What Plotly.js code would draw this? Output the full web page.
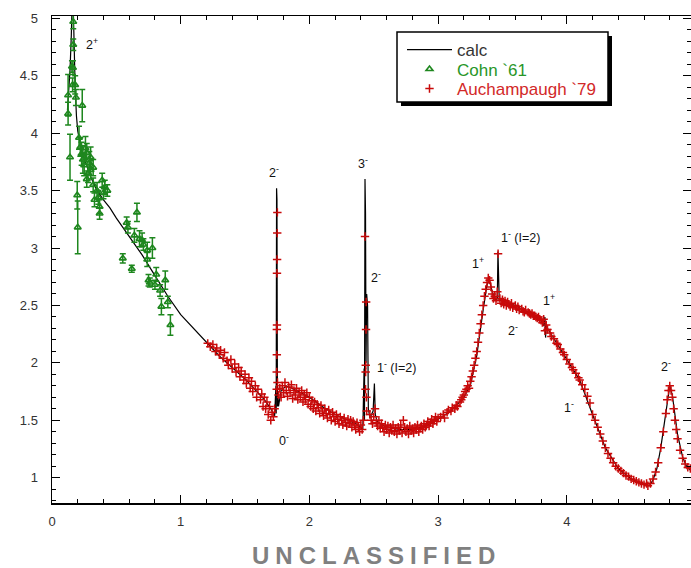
<!DOCTYPE html>
<html>
<head>
<meta charset="utf-8">
<script src="https://cdn.plot.ly/plotly-3.0.1.min.js"></script>
<style>html,body{margin:0;padding:0;background:#fff;}#chart{width:691px;height:568px;}</style>
</head>
<body>
<div id="chart"></div>
<script>
// calc curve
var calcX = [0.12,0.13,0.14,0.15,0.155,0.16,0.165,0.17,0.18,0.19,0.20,0.22,0.25,0.30,0.35,0.40,0.45,0.50,0.60,0.70,0.80,0.90,1.00,1.10,1.20,1.30,1.40,1.50,1.60,1.65,1.70,1.73,1.740,1.742,1.745,1.748,1.750,1.752,1.756,1.76,1.78,1.82,1.90,2.00,2.10,2.20,2.30,2.38,2.415,2.425,2.428,2.432,2.436,2.440,2.445,2.452,2.458,2.47,2.495,2.505,2.512,2.53,2.60,2.70,2.80,2.90,3.00,3.10,3.20,3.25,3.30,3.35,3.38,3.40,3.42,3.45,3.46,3.465,3.47,3.475,3.50,3.60,3.70,3.80,3.82,3.83,3.835,3.84,3.90,4.00,4.10,4.20,4.30,4.40,4.50,4.60,4.64,4.67,4.70,4.73,4.76,4.78,4.80,4.82,4.84,4.86,4.88,4.90,4.93,4.965];
var calcY = [4.20,4.35,4.55,4.85,5.10,5.30,5.10,4.75,4.40,4.15,4.02,3.90,3.78,3.62,3.50,3.42,3.35,3.26,3.10,2.94,2.76,2.58,2.42,2.30,2.18,2.06,1.96,1.86,1.74,1.68,1.60,1.54,1.80,1.56,3.52,3.42,2.30,1.62,1.72,1.62,1.76,1.80,1.76,1.70,1.62,1.55,1.50,1.46,1.42,1.95,1.50,3.60,3.30,2.00,2.60,2.50,1.60,1.52,1.58,1.82,1.55,1.48,1.44,1.42,1.42,1.45,1.51,1.58,1.70,1.80,2.06,2.46,2.68,2.72,2.62,2.54,2.56,2.97,2.62,2.55,2.54,2.50,2.44,2.37,2.32,2.40,2.22,2.32,2.21,2.03,1.85,1.55,1.26,1.08,0.99,0.94,0.93,0.98,1.08,1.26,1.50,1.68,1.80,1.72,1.55,1.38,1.28,1.18,1.10,1.06];

// Cohn `61
var cohnX = [0.165,0.165,0.163,0.16,0.155,0.125,0.125,0.14,0.18,0.186,0.235,0.196,0.20,0.21,0.22,0.23,0.24,0.25,0.26,0.27,0.27,0.28,0.29,0.30,0.30,0.32,0.32,0.33,0.35,0.36,0.37,0.37,0.39,0.40,0.41,0.43,0.55,0.58,0.59,0.62,0.64,0.66,0.68,0.70,0.71,0.74,0.74,0.75,0.76,0.78,0.80,0.81,0.84,0.85,0.88,0.90,0.92];
var cohnY = [4.97,4.77,4.57,4.42,4.58,4.33,4.17,3.79,4.42,4.31,4.24,3.46,3.18,3.96,3.88,3.82,3.77,3.72,3.87,3.83,3.60,3.65,3.74,3.79,3.68,3.70,3.55,3.42,3.50,3.44,3.36,3.30,3.59,3.48,3.53,3.50,2.91,3.22,3.18,2.82,3.11,3.31,3.08,3.07,3.03,2.98,2.90,2.72,2.70,3.00,2.68,2.77,2.63,2.49,2.72,2.53,2.33];
var cohnErr = [0.06,0.05,0.06,0.06,0.05,0.18,0.10,0.20,0.08,0.07,0.14,0.12,0.23,0.10,0.08,0.10,0.12,0.09,0.10,0.08,0.07,0.08,0.10,0.09,0.08,0.07,0.06,0.06,0.07,0.06,0.06,0.05,0.06,0.05,0.06,0.05,0.04,0.05,0.05,0.03,0.06,0.08,0.07,0.06,0.05,0.07,0.06,0.05,0.04,0.09,0.04,0.06,0.05,0.07,0.08,0.05,0.09];

// Auchampaugh `79
var auchX = [1.21,1.23,1.25,1.27,1.28,1.30,1.31,1.33,1.34,1.36,1.37,1.39,1.40,1.42,1.43,1.45,1.46,1.47,1.49,1.50,1.51,1.53,1.54,1.55,1.56,1.58,1.59,1.60,1.62,1.63,1.64,1.65,1.66,1.67,1.68,1.69,1.70,1.71,1.72,1.73,
 1.746,1.746,1.747,1.747,1.748,1.748,1.749,1.750,1.751,1.752,
 1.76,1.77,1.78,1.79,1.80,1.81,1.82,1.83,1.84,1.85,1.86,1.87,1.88,1.89,1.90,1.91,1.92,1.93,1.94,1.95,1.96,1.97,1.98,1.99,2.00,2.01,2.02,2.03,2.04,2.05,2.06,2.07,2.08,2.09,2.10,2.11,2.12,2.13,2.14,2.15,2.16,2.17,2.18,2.19,2.20,2.21,2.22,2.23,2.24,2.25,2.26,2.27,2.28,2.29,2.30,2.31,2.32,2.33,2.34,2.35,2.36,2.37,2.38,2.39,2.40,2.41,2.42,
 2.432,2.436,2.437,2.438,2.440,2.441,2.443,2.445,
 2.47,2.48,2.49,2.50,2.51,2.52,2.53,2.54,2.55,2.56,2.57,2.58,2.59,2.60,2.61,2.62,2.63,2.64,2.65,2.66,2.67,2.68,2.69,2.70,2.71,2.72,2.73,2.74,2.75,2.76,2.77,2.78,2.79,2.80,2.81,2.82,2.83,2.84,2.85,2.86,2.87,2.88,2.89,2.90,2.91,2.92,2.93,2.94,2.95,2.96,2.97,2.98,2.99,3.00,
 3.02,3.04,3.05,3.07,3.08,3.10,3.11,3.13,3.14,3.15,3.17,3.18,3.19,3.20,3.21,3.22,3.23,3.24,3.25,3.26,3.27,3.28,3.29,3.30,3.31,3.32,3.33,3.34,3.35,3.36,3.37,3.38,3.39,3.40,3.41,3.42,3.43,3.44,3.45,3.46,3.466,3.48,3.49,3.50,3.51,3.52,3.53,3.54,3.55,3.56,3.57,3.58,3.60,3.61,3.62,3.63,3.65,3.66,3.67,3.68,3.70,3.71,3.72,3.73,3.74,3.75,3.76,3.77,3.78,3.79,3.80,3.81,3.82,3.83,3.84,3.85,3.87,3.88,3.90,3.92,3.93,3.95,3.97,3.98,4.00,4.02,4.04,4.05,4.07,4.09,4.10,4.12,4.14,4.16,4.18,4.20,4.22,4.24,4.26,4.28,4.30,4.32,4.34,4.36,4.38,4.40,4.42,4.44,4.46,4.48,4.50,4.52,4.54,4.56,4.58,4.60,4.62,4.63,4.65,4.67,4.69,4.71,4.73,4.75,4.77,4.78,4.79,4.80,4.81,4.82,4.83,4.84,4.85,4.86,4.88,4.90,4.92,4.94,4.96];
var auchY = [2.17,2.14,2.16,2.10,2.13,2.07,2.11,2.04,2.09,2.02,1.98,2.03,1.95,1.99,1.92,1.96,1.88,1.93,1.85,1.90,1.82,1.87,1.78,1.84,1.75,1.80,1.70,1.77,1.68,1.73,1.62,1.70,1.60,1.66,1.55,1.62,1.50,1.57,1.53,1.60,
 1.77,1.92,2.07,2.29,2.33,2.78,2.90,3.13,3.31,1.83,
 1.72,1.78,1.70,1.80,1.74,1.83,1.76,1.71,1.79,1.74,1.81,1.69,1.76,1.72,1.78,1.68,1.74,1.70,1.76,1.66,1.72,1.68,1.74,1.64,1.70,1.62,1.67,1.60,1.66,1.58,1.64,1.61,1.56,1.63,1.58,1.54,1.60,1.56,1.52,1.59,1.55,1.50,1.57,1.53,1.49,1.55,1.51,1.47,1.53,1.50,1.46,1.52,1.48,1.45,1.51,1.47,1.50,1.44,1.49,1.46,1.42,1.48,1.44,1.40,1.46,1.42,1.50,
 3.10,1.77,1.92,1.98,2.29,2.53,1.70,1.58,
 1.55,1.50,1.47,1.53,1.60,1.48,1.45,1.50,1.43,1.47,1.44,1.40,1.46,1.42,1.45,1.39,1.44,1.41,1.46,1.40,1.43,1.38,1.44,1.41,1.46,1.39,1.50,1.44,1.40,1.43,1.38,1.45,1.41,1.43,1.39,1.44,1.42,1.46,1.40,1.43,1.45,1.42,1.47,1.44,1.46,1.49,1.45,1.48,1.51,1.47,1.50,1.53,1.49,1.52,
 1.53,1.55,1.52,1.57,1.59,1.58,1.61,1.60,1.63,1.62,1.66,1.68,1.70,1.72,1.75,1.77,1.80,1.78,1.84,1.88,1.93,1.98,2.04,2.10,2.18,2.26,2.34,2.42,2.50,2.58,2.64,2.70,2.74,2.72,2.66,2.60,2.56,2.58,2.54,2.62,2.95,2.56,2.52,2.55,2.51,2.54,2.50,2.53,2.51,2.49,2.52,2.48,2.50,2.47,2.49,2.46,2.47,2.45,2.44,2.46,2.44,2.43,2.42,2.43,2.41,2.41,2.40,2.39,2.40,2.38,2.37,2.35,2.38,2.28,2.33,2.29,2.26,2.23,2.21,2.17,2.16,2.12,2.09,2.07,2.03,1.99,1.96,1.94,1.91,1.87,1.85,1.81,1.77,1.71,1.65,1.55,1.50,1.44,1.38,1.32,1.26,1.21,1.17,1.13,1.10,1.08,1.06,1.04,1.02,1.01,0.99,0.98,0.97,0.96,0.95,0.94,0.95,0.93,0.95,0.99,1.05,1.13,1.26,1.40,1.56,1.68,1.76,1.80,1.76,1.70,1.60,1.50,1.42,1.34,1.24,1.17,1.12,1.09,1.08];

// annotation labels
var labX = [0.31,1.725,1.80,2.42,2.52,2.68,3.31,3.64,3.86,3.58,4.02,4.77];
var labY = [4.78,3.66,1.33,3.74,2.75,1.96,2.87,3.10,2.55,2.29,1.62,1.97];
var labT = ['2<sup>+</sup>','2<sup>-</sup>','0<sup>-</sup>','3<sup>-</sup>','2<sup>-</sup>','1<sup>-</sup> (I=2)','1<sup>+</sup>','1<sup>-</sup> (I=2)','1<sup>+</sup>','2<sup>-</sup>','1<sup>-</sup>','2<sup>-</sup>'];

var seriesNames = ['calc', 'Cohn `61', 'Auchampaugh `79'];

var green = 'rgb(30,135,30)';
var red = 'rgb(200,10,10)';
var cohnMarker = {symbol: 'triangle-up-open', size: 6, color: green, line: {width: 1.6, color: green}};
var auchMarker = {symbol: 'cross-thin-open', size: 6, color: red, line: {width: 1.5, color: red}};
var traces = [
 {x: calcX, y: calcY, type: 'scatter', mode: 'lines', showlegend: false, line: {color: '#000', width: 1.2}},
 {x: cohnX, y: cohnY, type: 'scatter', mode: 'markers', showlegend: false, marker: cohnMarker,
  error_y: {type: 'data', array: cohnErr, visible: true, color: green, thickness: 1.5, width: 3}},
 {x: auchX, y: auchY, type: 'scatter', mode: 'markers', showlegend: false, marker: auchMarker},
 // legend entries (no data of their own)
 {x: [null], y: [null], type: 'scatter', mode: 'lines', name: seriesNames[0], line: {color: '#000', width: 1.2}},
 {x: [null], y: [null], type: 'scatter', mode: 'markers', name: seriesNames[1], marker: cohnMarker},
 {x: [null], y: [null], type: 'scatter', mode: 'markers', name: seriesNames[2], marker: auchMarker}
];

var ann = [];
for (var i = 0; i < labX.length; i++) {
  ann.push({x: labX[i], y: labY[i], xref: 'x', yref: 'y', text: labT[i], showarrow: false,
    font: {family: 'Liberation Sans, Arial, sans-serif', size: 12.5, color: '#111'}});
}
ann.push({x: 0.508, y: -0.107, xref: 'paper', yref: 'paper', xanchor: 'center', yanchor: 'middle',
  text: '<span style="letter-spacing:6px">UNCLASSIFIED</span>', showarrow: false,
  font: {family: 'Liberation Sans, Arial, sans-serif', size: 24, color: '#808080', weight: 'bold'}});

function px2x(p){return (p-52)/639;}
function py2y(p){return 1-(p-16)/487;}

var layout = {
  width: 691, height: 568,
  margin: {l: 52, r: 0, t: 16, b: 65},
  paper_bgcolor: '#fff', plot_bgcolor: '#fff',
  font: {family: 'Liberation Sans, Arial, sans-serif', size: 13, color: '#333'},
  showlegend: true,
  legend: {x: px2x(402), y: py2y(32), xanchor: 'left', yanchor: 'top', bgcolor: 'rgba(0,0,0,0)', borderwidth: 0,
    font: {size: 17}, tracegroupgap: 0, itemwidth: 45},
  xaxis: {range: [0, 4.965], showgrid: false, zeroline: false, showline: true, linecolor: '#000', linewidth: 1.5,
    mirror: 'ticks', ticks: 'inside', ticklen: 8, tickwidth: 1, tickcolor: '#000', dtick: 1, tick0: 0,
    minor: {dtick: 0.2, ticks: 'inside', ticklen: 4, tickcolor: '#000', tickwidth: 1},
    tickfont: {size: 13, color: '#333'}, ticklabelstandoff: 6},
  yaxis: {range: [0.78, 5.02], showgrid: false, zeroline: false, showline: true, linecolor: '#000', linewidth: 1.5,
    mirror: 'ticks', ticks: 'inside', ticklen: 8, tickwidth: 1, tickcolor: '#000', dtick: 0.5, tick0: 0,
    minor: {dtick: 0.1, ticks: 'inside', ticklen: 4, tickcolor: '#000', tickwidth: 1},
    tickfont: {size: 13, color: '#333'}, ticklabelstandoff: 10},
  shapes: [
    {type: 'rect', xref: 'paper', yref: 'paper', x0: px2x(401), x1: px2x(612), y0: py2y(106), y1: py2y(36),
      fillcolor: '#000', line: {width: 0}, layer: 'above'},
    {type: 'rect', xref: 'paper', yref: 'paper', x0: px2x(397), x1: px2x(608), y0: py2y(102), y1: py2y(32),
      fillcolor: '#fff', line: {width: 1.5, color: '#000'}, layer: 'above'}
  ],
  annotations: ann
};

Plotly.newPlot('chart', traces, layout, {displayModeBar: false, staticPlot: true}).then(function(){
  var cols = ['#333', 'rgb(40,150,40)', 'rgb(210,40,40)'];
  var groups = document.querySelectorAll('.legend .traces');
  // tighten the legend rows to the reference spacing
  var first = null;
  groups.forEach(function(g, i){
    var m = /translate\(\s*([-\d.]+)[ ,]+([-\d.]+)\s*\)/.exec(g.getAttribute('transform') || '');
    var tx = m ? parseFloat(m[1]) : 0, ty = m ? parseFloat(m[2]) : 0;
    if (first === null) first = ty;
    g.setAttribute('transform', 'translate(' + tx + ',' + (first + 19.5 * i) + ')');
    var t = g.querySelector('.legendtext');
    if (t) t.style.fill = cols[i];
  });
});
</script>
</body>
</html>
